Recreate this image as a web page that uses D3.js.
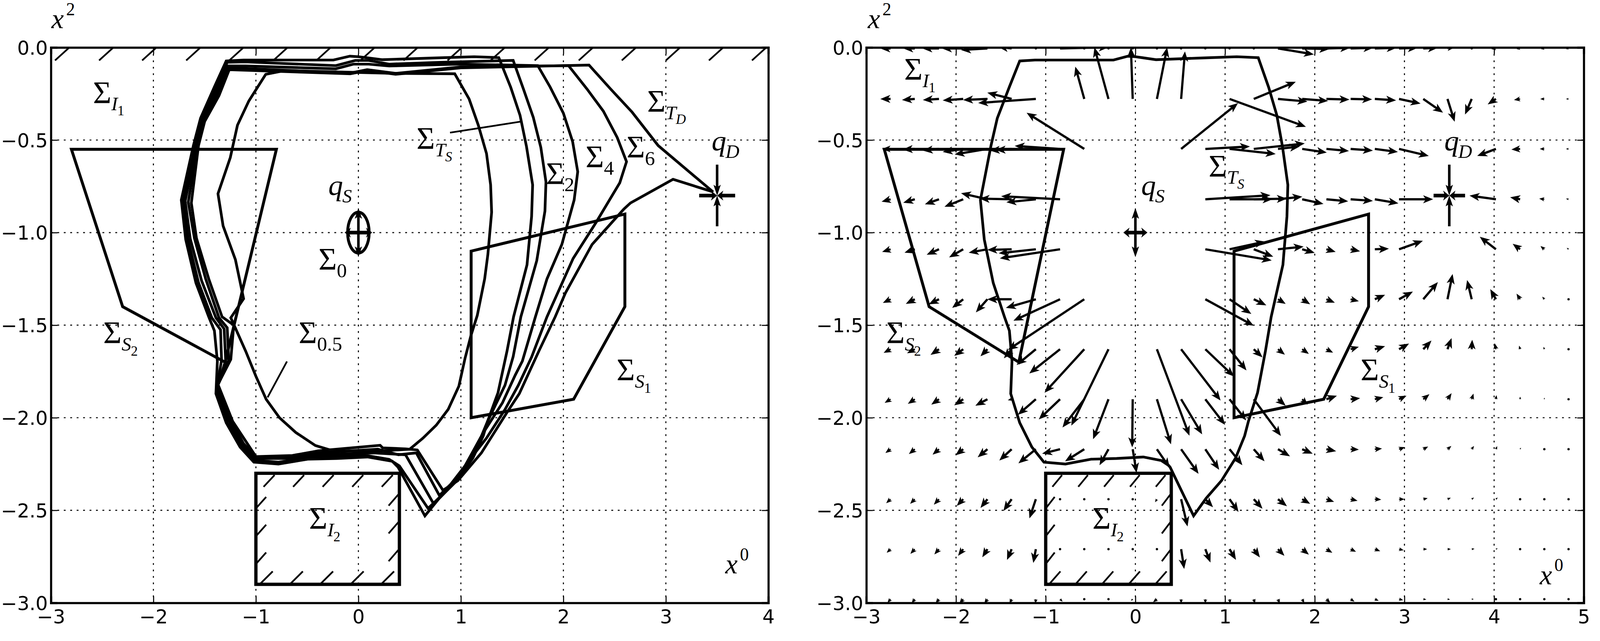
<!DOCTYPE html>
<html><head><meta charset="utf-8">
<script src="https://d3js.org/d3.v7.min.js"></script>
<style>
html, body { margin: 0; padding: 0; background: white; overflow: hidden; width: 100%; height: 100%; }
svg { display: block; width: 100vw; height: 100vh; }
.tick text { font-family: 'DejaVu Sans', sans-serif; font-size: 50px; fill: black; }
.sigma { font-family: 'Liberation Serif', serif; fill: black; }
.ital { font-style: italic; }
</style>
</head>
<body>
<svg id="chart" viewBox="0 0 4148 1640" preserveAspectRatio="xMinYMin meet"></svg>
<script>
// boundary curves of the left panel, [x0, x2]
const curveHalf = [[-0.904,-0.145],[-0.72,-0.125],[0.36,-0.14],[0.94,-0.142],[1.08,-0.278],[1.17,-0.42],[1.25,-0.573],[1.29,-0.742],[1.30,-0.89],[1.263,-1.119],[1.232,-1.25],[1.16,-1.447],[1.096,-1.56],[1.04,-1.68],[0.98,-1.83],[0.876,-1.955],[0.76,-2.04],[0.63,-2.11],[0.5,-2.17],[0.2,-2.18],[-0.24,-2.18],[-0.42,-2.15],[-0.61,-2.08],[-0.77,-2.0],[-0.9,-1.9],[-1.0,-1.776],[-1.1,-1.64],[-1.245,-1.46],[-1.12,-1.357],[-1.2,-1.146],[-1.32,-0.964],[-1.37,-0.79],[-1.25,-0.595],[-1.18,-0.42],[-1.07,-0.29]];
const curveTS = [[-1.29,-0.073],[-1.12,-0.068],[-0.245,-0.068],[-0.083,-0.047],[0.0,-0.05],[0.074,-0.055],[0.23,-0.066],[0.72,-0.057],[1.13,-0.05],[1.37,-0.055],[1.486,-0.215],[1.577,-0.366],[1.64,-0.535],[1.70,-0.742],[1.69,-0.912],[1.645,-1.174],[1.514,-1.455],[1.45,-1.64],[1.362,-1.865],[1.26,-2.02],[1.218,-2.098],[1.117,-2.218],[0.96,-2.34],[0.787,-2.436],[0.649,-2.53],[0.387,-2.267],[0.33,-2.235],[0.088,-2.212],[-0.21,-2.22],[-0.495,-2.224],[-0.78,-2.25],[-1.02,-2.24],[-1.155,-2.158],[-1.29,-2.027],[-1.39,-1.87],[-1.376,-1.694],[-1.405,-1.53],[-1.46,-1.455],[-1.585,-1.272],[-1.685,-1.037],[-1.728,-0.824],[-1.61,-0.53],[-1.54,-0.382],[-1.405,-0.213]];
const curve2 = [[-1.28,-0.08],[-1.1,-0.078],[-0.22,-0.098],[-0.03,-0.07],[0.1,-0.07],[0.3,-0.09],[0.8,-0.08],[1.51,-0.07],[1.61,-0.224],[1.706,-0.377],[1.78,-0.54],[1.83,-0.726],[1.82,-0.884],[1.74,-1.152],[1.585,-1.455],[1.51,-1.67],[1.43,-1.825],[1.26,-2.02],[1.2,-2.1],[0.97,-2.335],[0.68,-2.49],[0.4,-2.26],[0.3,-2.225],[0.09,-2.205],[-0.4,-2.21],[-0.78,-2.24],[-1.01,-2.23],[-1.14,-2.15],[-1.28,-2.03],[-1.385,-1.85],[-1.335,-1.69],[-1.345,-1.525],[-1.43,-1.46],[-1.56,-1.27],[-1.665,-1.035],[-1.71,-0.826],[-1.59,-0.53],[-1.525,-0.385],[-1.39,-0.22]];
const curve4 = [[-1.27,-0.1],[-1.1,-0.1],[-0.22,-0.115],[-0.05,-0.09],[0.1,-0.09],[0.3,-0.1],[1.0,-0.09],[1.75,-0.098],[1.87,-0.213],[2.0,-0.355],[2.09,-0.508],[2.14,-0.671],[2.105,-0.824],[1.985,-1.064],[1.84,-1.25],[1.727,-1.455],[1.6,-1.694],[1.53,-1.77],[1.405,-1.92],[1.22,-2.08],[0.97,-2.33],[0.735,-2.466],[0.46,-2.2],[0.3,-2.195],[0.15,-2.19],[-0.39,-2.2],[-0.7,-2.22],[-1.0,-2.22],[-1.13,-2.15],[-1.26,-2.02],[-1.38,-1.84],[-1.295,-1.69],[-1.31,-1.52],[-1.39,-1.46],[-1.53,-1.26],[-1.64,-1.035],[-1.69,-0.83],[-1.58,-0.53],[-1.515,-0.39],[-1.38,-0.235]];
const curve6 = [[-1.265,-0.11],[-0.08,-0.138],[0.086,-0.12],[0.363,-0.14],[1.0,-0.105],[2.05,-0.098],[2.23,-0.224],[2.39,-0.344],[2.525,-0.486],[2.616,-0.617],[2.55,-0.731],[2.32,-0.944],[2.095,-1.14],[1.84,-1.455],[1.69,-1.672],[1.56,-1.825],[1.43,-1.956],[1.25,-2.11],[0.9,-2.36],[0.79,-2.42],[0.565,-2.19],[0.39,-2.2],[0.19,-2.17],[-0.39,-2.19],[-0.645,-2.21],[-1.0,-2.215],[-1.12,-2.14],[-1.24,-2.02],[-1.375,-1.83],[-1.265,-1.69],[-1.28,-1.514],[-1.36,-1.46],[-1.49,-1.25],[-1.6,-1.03],[-1.66,-0.835],[-1.57,-0.53],[-1.505,-0.395],[-1.37,-0.25]];
const curveTD = [[-1.26,-0.12],[-0.08,-0.142],[0.086,-0.125],[0.363,-0.145],[1.0,-0.11],[2.25,-0.095],[2.46,-0.224],[2.67,-0.349],[2.925,-0.53],[3.46,-0.78],[3.07,-0.712],[2.655,-0.84],[2.59,-0.873],[2.28,-1.064],[2.02,-1.326],[1.92,-1.455],[1.765,-1.635],[1.57,-1.87],[1.456,-1.966],[1.2,-2.19],[0.97,-2.34],[0.825,-2.392],[0.575,-2.174],[0.46,-2.168],[0.237,-2.163],[0.212,-2.149],[-0.39,-2.179],[-0.645,-2.204],[-1.0,-2.21],[-1.226,-2.02],[-1.37,-1.82],[-1.245,-1.685],[-1.216,-1.5],[-1.33,-1.455],[-1.46,-1.25],[-1.58,-1.03],[-1.63,-0.84],[-1.56,-0.53],[-1.5,-0.4],[-1.36,-0.26]];
const leftCurves = [curveHalf, curveTS, curve2, curve4, curve6, curveTD];

// sets
const sigmaS1 = [[1.1,-1.1],[2.6,-0.9],[2.6,-1.4],[2.1,-1.9],[1.1,-2.0]];
const sigmaS2 = [[-2.8,-0.55],[-0.8,-0.55],[-1.3,-1.7],[-2.3,-1.4]];
const sigmaI2 = [[-1,-2.3],[0.4,-2.3],[0.4,-2.9],[-1,-2.9]];
const sigma0Centre = [0, -1];

// hatch strokes
const hatchTopX = [-2.96,-2.53,-2.11,-1.68,-1.26,-0.83,-0.41,0.02,0.44,0.87,1.29,1.72,2.15,2.57,3.0,3.42,3.84];
const hatchRectTopX = [-0.925,-0.637,-0.349,-0.06,0.228];
const hatchRectBottomX = [-0.954,-0.66,-0.365,-0.067,0.23];
const hatchRectLeftY = [-2.49,-2.64,-2.79];
const hatchRectRightY = [-2.475,-2.625,-2.775];

// leader lines in the left panel
const leaders = [[[0.894,-0.46],[1.59,-0.4]], [[-0.697,-1.696],[-0.886,-1.89]]];

// labels: x, x2, base, subscript, sub-subscript
const labelsLeft = [
  [-2.59,-0.30,"Σ","I","1"], [-0.39,-1.2,"Σ","0",""], [-2.49,-1.598,"Σ","S","2"],
  [-0.583,-1.598,"Σ","0.5",""], [-0.482,-2.6,"Σ","I","2"], [2.518,-1.798,"Σ","S","1"],
  [0.567,-0.549,"Σ","T","S"], [1.83,-0.737,"Σ","2",""], [2.216,-0.647,"Σ","4",""],
  [2.616,-0.595,"Σ","6",""], [2.817,-0.347,"Σ","T","D"],
  [-0.293,-0.797,"q","S",""], [3.446,-0.557,"q","D",""]
];
const labelsRight = [
  [-2.578,-0.175,"Σ","I","1"], [-2.777,-1.598,"Σ","S","2"], [-0.48,-2.6,"Σ","I","2"],
  [2.511,-1.798,"Σ","S","1"], [0.816,-0.697,"Σ","T","S"],
  [0.065,-0.797,"q","S",""], [3.445,-0.557,"q","D",""]
];
const axisLabelsLeft = [[-2.995,0.104,"x","2"], [3.58,-2.841,"x","0"]];
const axisLabelsRight = [[-2.984,0.104,"x","2"], [4.509,-2.899,"x","0"]];

// singular points: outgoing arrows at qS, incoming arrows at qD
const sourceArrows = [[0,-1,0.134,0],[0,-1,-0.134,0],[0,-1,0,0.133],[0,-1,0,-0.133]];
const sinkArrows = [[3.325,-0.8,0.175,0],[3.676,-0.8,-0.176,0],[3.5,-0.633,0,-0.167],[3.5,-0.966,0,0.166]];

// ticks
const xTicksLeft = [-3,-2,-1,0,1,2,3,4];
const xTicksRight = [-3,-2,-1,0,1,2,3,4,5];
const yTicks = [0,-0.5,-1,-1.5,-2,-2.5,-3];

// vector field of the right panel, u rightwards, v towards decreasing x2
const fieldCols = [-2.73,-2.46,-2.19,-1.92,-1.65,-1.38,-1.11,-0.84,-0.57,-0.30,-0.03,0.24,0.51,0.78,1.05,1.32,1.59,1.86,2.13,2.40,2.67,2.94,3.21,3.48,3.75,4.02,4.29,4.56,4.83];
const fieldRows = [-0.005,-0.278,-0.548,-0.82,-1.09,-1.36,-1.63,-1.90,-2.17,-2.44,-2.71,-2.98];
const n = null;
const fieldU = [
  [-40,-45,-65,-83,-103,-53,0,190,2,2,0,2,2,0,0,0,140,106,93,89,85,73,57,25,0,-18,-14,-13,-10],
  [-40,-50,-63,-80,-95,-95,-225,n,-35,-55,-7,40,15,n,298,164,115,101,90,84,83,84,77,28,-26,-32,-24,-16,-10],
  [-33,-47,-63,-80,-128,-85,-157,-177,-225,n,n,n,222,174,180,199,85,96,88,87,90,116,n,n,n,-73,-34,-18,-10],
  [-35,-45,-55,-73,-103,-125,-115,-230,n,n,n,n,n,254,168,129,95,83,85,87,92,133,n,n,n,-103,-39,-20,-10],
  [-33,-40,-48,-55,-73,-95,-145,-235,n,n,n,n,n,259,138,76,100,49,36,37,55,93,n,n,n,-63,-29,-15,-7],
  [-30,-35,-40,-43,-45,-95,-117,-182,-298,n,n,n,n,189,85,49,30,31,33,32,40,54,57,20,-18,-22,-14,-8,0],
  [-27,-30,-33,-35,-27,-30,-75,-120,-155,-145,n,127,154,112,66,34,27,26,26,32,40,39,32,16,2,-5,-4,-3,0],
  [-23,-27,-30,-35,-47,-15,-70,-83,-85,-60,-2,55,82,77,65,106,30,21,41,37,33,29,24,16,7,2,0,0,0],
  [-20,-23,-25,-30,-38,-48,-68,-70,-75,-35,15,50,68,54,50,42,47,41,38,32,28,23,19,15,9,5,3,0,0],
  [-17,-18,-20,-25,-27,-32,-25,0,0,0,0,-7,25,30,35,34,35,31,30,27,25,21,17,13,9,7,0,0,0],
  [-15,-17,-18,-20,-20,-18,-10,0,0,0,0,0,12,20,25,24,25,26,23,21,21,18,15,13,11,7,0,0,0],
  [-12,-12,-13,-15,-12,-8,-2,10,0,0,-7,-15,0,0,3,5,7,8,15,15,15,16,12,10,8,0,0,0,0]
];
const fieldV = [
  [0,0,0,0,8,-8,6,-6,6,6,6,6,6,6,6,6,30,3,-3,-3,-3,-3,-3,-3,0,3,3,3,3],
  [0,5,5,7,5,-31,20,n,-160,-255,-255,-255,-235,n,138,-85,13,10,3,2,7,23,68,113,77,27,5,0,0],
  [0,3,8,15,27,8,5,-15,-179,n,n,n,-227,-12,25,-27,-12,18,10,8,15,35,n,n,n,35,3,0,0],
  [12,17,25,37,-30,-3,15,-15,n,n,n,n,n,-20,0,-3,-13,23,10,8,20,0,n,n,n,-18,-10,-3,-3],
  [13,17,27,40,17,3,20,45,n,n,n,n,n,55,-38,37,-13,18,13,10,-3,-42,n,n,n,-62,-27,-16,-7],
  [18,23,25,43,65,0,43,106,251,n,n,n,n,131,73,30,23,25,17,10,-22,-38,-85,-125,-95,-50,-28,-13,0],
  [18,20,28,33,35,45,78,120,215,378,n,428,254,135,105,40,27,23,17,-12,-15,-28,-43,-55,-47,-30,-18,-12,0],
  [18,23,27,30,32,5,77,100,140,198,238,223,174,127,105,182,32,27,-17,-5,-10,-17,-25,-30,-28,-20,-13,-8,0],
  [19,24,27,30,40,56,70,22,60,79,117,92,122,102,79,60,35,22,10,2,-3,-10,-13,-16,-16,-15,-8,0,0],
  [20,23,27,33,43,58,95,0,0,0,0,15,135,40,63,47,35,23,13,8,2,0,-5,-7,-8,-8,0,0,0],
  [18,23,26,33,40,53,68,0,0,0,0,0,98,66,53,41,33,27,18,13,10,5,0,0,-2,-4,0,0,0],
  [18,20,20,22,22,22,22,12,0,0,8,15,22,22,22,22,22,20,18,12,8,5,2,2,0,0,0,0,0]
];
const uScale = 1 / 350, vScale = 1 / 916;

const svg = d3.select("#chart");
const plotTop = 123, plotBottom = 1562;
const y = d3.scaleLinear().domain([0, -3]).range([plotTop, plotBottom]);
const xL = d3.scaleLinear().domain([-3, 4]).range([132, 1992]);
const xR = d3.scaleLinear().domain([-3, 5]).range([2246, 4106]);

svg.append("defs").append("clipPath").attr("id", "clipR").append("rect")
  .attr("x", 2246).attr("y", plotTop).attr("width", 1860).attr("height", plotBottom - plotTop);

function axes(x, xTicks) {
  const g = svg.append("g");
  const left = x.range()[0], right = x.range()[1];
  // dotted grid
  const grid = g.append("g").attr("stroke", "black").attr("stroke-width", 2.7).attr("stroke-dasharray", "4.7,12");
  grid.selectAll(".gx").data(xTicks.slice(1, -1)).join("line")
    .attr("x1", d => x(d)).attr("x2", d => x(d)).attr("y1", plotTop).attr("y2", plotBottom);
  grid.selectAll(".gy").data(yTicks.slice(1, -1)).join("line")
    .attr("x1", left).attr("x2", right).attr("y1", d => y(d)).attr("y2", d => y(d));

  const bot = g.append("g").attr("transform", `translate(0,${plotBottom})`)
    .call(d3.axisBottom(x).tickValues(xTicks).tickSize(-17).tickPadding(18).tickFormat(d3.format("d")));
  const topAxis = g.append("g").attr("transform", `translate(0,${plotTop})`)
    .call(d3.axisTop(x).tickValues(xTicks).tickSize(-17).tickFormat(""));
  const lef = g.append("g").attr("transform", `translate(${left},0)`)
    .call(d3.axisLeft(y).tickValues(yTicks).tickSize(-17).tickPadding(8).tickFormat(d3.format(".1f")));
  const rig = g.append("g").attr("transform", `translate(${right},0)`)
    .call(d3.axisRight(y).tickValues(yTicks).tickSize(-17).tickFormat(""));
  [bot, topAxis, lef, rig].forEach(a => {
    a.selectAll("line").attr("stroke-width", 2.7);
    a.select(".domain").attr("stroke-width", 5.5);
  });
  lef.selectAll("text").attr("dy", "0.36em");
  return g;
}

const line = x => d3.line().x(d => x(d[0])).y(d => y(d[1]));

function polygons(g, x, sets, width) {
  g.selectAll(null).data(sets).join("path")
    .attr("d", d => line(x)(d) + "Z")
    .attr("fill", "none").attr("stroke", "black").attr("stroke-width", width).attr("stroke-linejoin", "miter");
}

function hatch(g, x, segs) {
  g.selectAll(null).data(segs).join("line")
    .attr("x1", d => x(d[0])).attr("y1", d => y(d[1]))
    .attr("x2", d => x(d[2])).attr("y2", d => y(d[3]))
    .attr("stroke", "black").attr("stroke-width", 4.5);
}

function rectHatch(g, x) {
  const segs = [];
  hatchRectTopX.forEach(v => segs.push([v, -2.373, v + 0.107, -2.31]));
  hatchRectBottomX.forEach(v => segs.push([v, -2.895, v + 0.118, -2.83]));
  hatchRectLeftY.forEach(v => segs.push([-1, v, -0.9, v + 0.062]));
  hatchRectRightY.forEach(v => segs.push([0.295, v, 0.4, v + 0.067]));
  hatch(g, x, segs);
}

function label(g, x, d) {
  const t = g.append("text").attr("class", "sigma")
    .attr("x", x(d[0])).attr("y", y(d[1]));
  const isSigma = d[2] === "Σ";
  t.append("tspan").attr("font-size", isSigma ? 82 : 76)
    .attr("class", isSigma ? "" : "ital").text(d[2]);
  const numeric = /^[0-9.]+$/.test(d[3]);
  t.append("tspan").attr("font-size", numeric ? 52 : 50).attr("dy", 19).attr("dx", isSigma ? 0 : -2)
    .attr("class", numeric ? "" : "ital").text(d[3]);
  if (d[4]) {
    const sn = /^[0-9]$/.test(d[4]);
    t.append("tspan").attr("font-size", 36).attr("dy", 13).attr("dx", -1)
      .attr("class", sn ? "" : "ital").text(d[4]);
  }
}

function axisLabel(g, x, d) {
  const t = g.append("text").attr("class", "sigma").attr("x", x(d[0])).attr("y", y(d[1]));
  t.append("tspan").attr("class", "ital").attr("font-size", 72).text(d[2]);
  t.append("tspan").attr("font-size", 46).attr("dy", -34).attr("dx", 6).text(d[3]);
}

// arrow outline; shape is [shaft half width, head half width, head length, head axis length]
const fieldShape = [2.9, 10.5, 26, 21];
const markShapeH = [4.7, 13, 16, 13];
const markShapeV = [3.3, 9.5, 28, 24];

// quiver style arrow, shrinks as a whole when shorter than its head
function arrow(g, x0, y0, x1, y1, shape) {
  const dx = x1 - x0, dy = y1 - y0, len = Math.hypot(dx, dy);
  if (len < 4) {
    g.append("circle").attr("cx", x0).attr("cy", y0).attr("r", 3).attr("fill", "black");
    return;
  }
  const s = Math.min(1, len / shape[2]);
  const w = shape[0] * s, hw = shape[1] * s, h = shape[2] * s, ha = shape[3] * s;
  const pts = [[0,-w],[len-ha,-w],[len-h,-hw],[len,0],[len-h,hw],[len-ha,w],[0,w]];
  g.append("path")
    .attr("d", d3.line()(pts) + "Z")
    .attr("transform", `translate(${x0},${y0}) rotate(${Math.atan2(dy, dx) * 180 / Math.PI})`)
    .attr("fill", "black");
}

function marks(g, x, list) {
  list.forEach(a => arrow(g, x(a[0]), y(a[1]), x(a[0] + a[2]), y(a[1] + a[3]), a[3] === 0 ? markShapeH : markShapeV));
}

// left panel
const gL = axes(xL, xTicksLeft);
hatch(gL, xL, hatchTopX.map(v => [v, -0.07, v + 0.14, 0]));
polygons(gL, xL, [sigmaS1, sigmaS2], 7.5);
polygons(gL, xL, [sigmaI2], 8.5);
rectHatch(gL, xL);
polygons(gL, xL, leftCurves, 7);
gL.selectAll(null).data(leaders).join("path")
  .attr("d", line(xL)).attr("fill", "none").attr("stroke", "black").attr("stroke-width", 4.5);
gL.append("ellipse").attr("cx", xL(sigma0Centre[0])).attr("cy", y(sigma0Centre[1]))
  .attr("rx", xL(0.105) - xL(0)).attr("ry", y(-0.11) - y(0))
  .attr("fill", "none").attr("stroke", "black").attr("stroke-width", 7.5);
marks(gL, xL, sourceArrows);
marks(gL, xL, sinkArrows);
labelsLeft.forEach(d => label(gL, xL, d));
axisLabelsLeft.forEach(d => axisLabel(gL, xL, d));

// right panel
const gR = axes(xR, xTicksRight);
const field = gR.append("g").attr("clip-path", "url(#clipR)");
fieldRows.forEach((r, i) => fieldCols.forEach((c, j) => {
  if (fieldU[i][j] === null) return;
  arrow(field, xR(c), y(r), xR(c + fieldU[i][j] * uScale), y(r - fieldV[i][j] * vScale), fieldShape);
}));
polygons(gR, xR, [sigmaS1, sigmaS2], 7.5);
polygons(gR, xR, [sigmaI2], 8.5);
rectHatch(gR, xR);
polygons(gR, xR, [curveTS], 7);
marks(gR, xR, sourceArrows);
marks(gR, xR, sinkArrows);
labelsRight.forEach(d => label(gR, xR, d));
axisLabelsRight.forEach(d => axisLabel(gR, xR, d));
</script>
</body>
</html>
